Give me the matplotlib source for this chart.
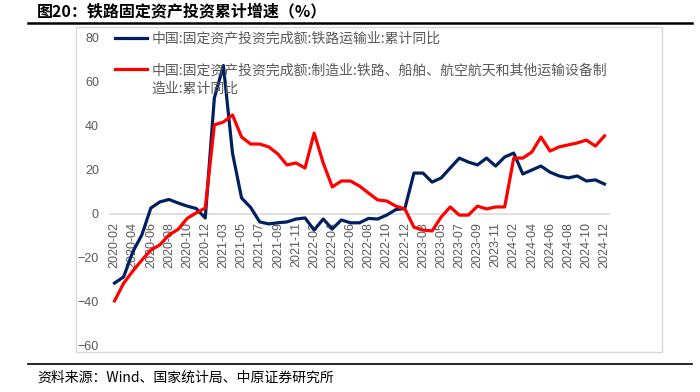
# 铁路固定资产投资累计增速 chart
import matplotlib
matplotlib.use("Agg")
import matplotlib.pyplot as plt
from matplotlib.patches import Rectangle
from matplotlib.lines import Line2D

plt.rcParams['font.family'] = ['Noto Sans CJK SC', 'DejaVu Sans']

# months (no January in the stats)
months = []
for yr in range(2020, 2025):
    for m in range(2, 13):
        months.append(f"{yr}-{m:02d}")

rail_transport = [-31.4, -28.6, -17.3, -9.6, 2.7, 5.5, 6.6, 5.0, 3.6, 2.5, -1.8,
                  52.7, 67.5, 27.7, 7.3, 3.0, -3.6, -4.5, -4.0, -3.6, -2.3, -1.8,
                  -7.3, -2.3, -6.8, -2.7, -4.0, -4.0, -2.0, -2.3, -0.5, 2.0, 2.5,
                  18.6, 18.6, 14.5, 16.4, 20.9, 25.4, 23.6, 22.3, 25.4, 21.8, 25.9,
                  27.7, 18.2, 20.0, 21.8, 19.0, 17.3, 16.4, 17.3, 15.0, 15.5, 13.6]

rail_equipment = [-39.5, -31.5, -26.0, -21.0, -16.4, -14.0, -9.5, -7.0, -2.0, 0.5, 2.7,
                  40.5, 41.8, 45.0, 35.0, 31.8, 31.8, 30.5, 27.3, 22.3, 23.2, 20.9,
                  36.8, 23.2, 12.3, 15.0, 15.0, 12.7, 9.5, 6.4, 5.9, 3.6, 2.3,
                  -6.0, -7.3, -7.7, -1.4, 3.2, -0.5, -0.5, 3.6, 2.3, 3.2, 3.2,
                  25.4, 25.4, 28.2, 35.0, 28.6, 30.5, 31.4, 32.3, 33.6, 30.9, 35.5]

label_blue = "中国:固定资产投资完成额:铁路运输业:累计同比"
label_red = "中国:固定资产投资完成额:制造业:铁路、船舶、航空航天和其他运输设备制"
label_red_cont = "造业:累计同比"

W, H = 700, 392
fig = plt.figure(figsize=(7, 3.92), dpi=100)

def fx(px):
    return px / W

def fy(py):
    return 1 - py / H

# outer chart box
fig.patches.append(Rectangle((fx(76), fy(352)), fx(662) - fx(76), fy(27) - fy(352),
                             transform=fig.transFigure, fill=False,
                             edgecolor='#d9d9d9', linewidth=1))
# title and source rules
fig.add_artist(Line2D([fx(28), fx(692)], [fy(23), fy(23)], color='black', lw=1.8))
fig.add_artist(Line2D([fx(28), fx(692)], [fy(364), fy(364)], color='black', lw=1.2))

fig.text(fx(37), fy(11), "图20：铁路固定资产投资累计增速（%）", fontsize=11.5,
         fontweight='bold', va='center', ha='left', color='black')
fig.text(fx(37), fy(378), "资料来源：Wind、国家统计局、中原证券研究所", fontsize=10,
         va='center', ha='left', color='black')

ax = fig.add_axes([fx(110), fy(346), fx(609) - fx(110), fy(38) - fy(346)])
x = list(range(len(months)))
ax.plot(x, rail_transport, color='#002060', lw=2.3, label=label_blue)
ax.plot(x, rail_equipment, color='#ff0000', lw=2.3, label=label_red)

ax.set_xlim(-0.5, len(months) - 0.5)
ax.set_ylim(-60, 80)
ax.set_yticks(range(-60, 81, 20))
ax.set_xticks(x[::2])
ax.set_xticklabels(months[::2])

for s in ['top', 'right', 'left']:
    ax.spines[s].set_visible(False)
ax.spines['bottom'].set_position(('data', 0))
ax.spines['bottom'].set_color('#d9d9d9')
ax.spines['bottom'].set_linewidth(1.2)
ax.spines['bottom'].set_zorder(0)
ax.tick_params(axis='both', length=0, colors='#595959', labelsize=9)
ax.tick_params(axis='x', pad=6, labelrotation=90)
ax.tick_params(axis='y', pad=8)
for t in ax.get_xticklabels() + ax.get_yticklabels():
    t.set_fontfamily('Liberation Sans')
for t in ax.get_xticklabels():
    t.set_va('top')

leg = ax.legend(loc='upper left', bbox_to_anchor=(fx(117) - fx(110), fy(30) - fy(38) + 1),
                bbox_transform=ax.transAxes, frameon=False, fontsize=10,
                handlelength=2.3, handletextpad=0.35, labelspacing=1.25,
                borderaxespad=0, borderpad=0)
for t in leg.get_texts():
    t.set_color('#595959')

# second line of the wrapped red label, under the first
fig.canvas.draw()
bb = leg.get_texts()[1].get_window_extent()
fig.text(bb.x0 / W, (bb.y0 - 19) / H, label_red_cont, fontsize=10,
         color='#595959', ha='left', va='bottom')

fig.savefig('out.png', dpi=100)
